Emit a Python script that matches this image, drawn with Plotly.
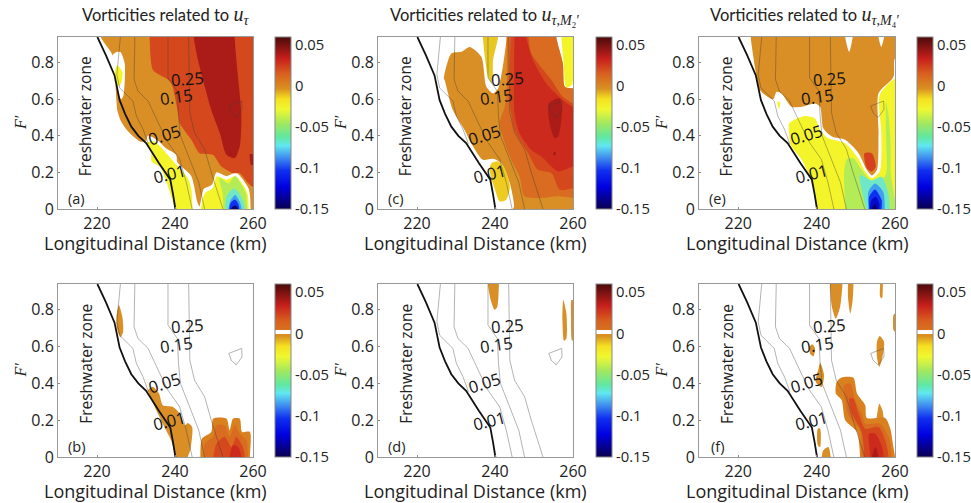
import plotly.graph_objects as go
from plotly.subplots import make_subplots

# ---- isoline readings (km, F') -------------------------------------------
iso_black = [(220.1,.94),(222.3,.84),(224.5,.73),(225.1,.66),(225.8,.595),(227.2,.52),(228.8,.45),(230.6,.40),(232.6,.36),(235.9,.25),(238.8,.16),(239.5,.08),(240.1,0)]
iso_1 = [(226.0,.94),(225.6,.835),(225.1,.735),(225.8,.662),(229.2,.59),(230.1,.508),(231.8,.436),(233.2,.354)]
iso_2 = [(229.7,.94),(229.5,.708),(230.5,.644),(233.1,.59),(236.1,.454),(238.2,.363),(241.2,.272),(242.9,.145),(244.4,0)]
iso_3 = [(238.2,.94),(238.2,.717),(240.6,.644),(240.9,.508),(241.4,.40),(243.8,.272),(246.1,.145),(247.6,0)]
iso_4 = [(243.5,.94),(243.8,.526),(245,.417),(247.6,.327),(249.3,.20),(252.3,0)]
iso_loop = [(253.8,.563),(257.1,.59),(257.2,.544),(255.7,.50),(254.4,.526),(253.8,.563)]
iso_labels = ["0.25","0.15","0.05","0.01"]
iso_label_x = [243.3,240.3,237.4,238.6]
iso_label_y = [.713,.613,.405,.196]
iso_label_angle = [-4,-8,-17,-14]

# ---- band colours ---------------------------------------------------------
C_WHITE="#ffffff"; C_YEL="#f4f42a"; C_GRN="#b4ec58"; C_TEAL="#70e8c8"; C_LBLUE="#3fa0f0"
C_BLUE="#1030f0"; C_DBLUE="#0808c8"; C_NAVY="#0a0070"
C_ORG="#d98f25"; C_ORG2="#d96c20"; C_ORG3="#d5481e"; C_RED="#cc2a1c"; C_DRED="#ab1c18"

# ---- panel (a) ------------------------------------------------------------
a_orange=[(221,.94),(224,.84),(224.6,.72),(225,.587),(225.2,.54),(226.2,.478),(228,.423),(231,.369),(232.6,.372),(233,.40),(235.4,.379),(237.6,.333),(240.3,.296),(240.6,.255),(244.1,.183),(244.9,.124),(245.7,.04),(246.3,.015),(247.4,.11),(249.5,.134),(250.6,.20),(253.2,.18),(255.7,.198),(258.9,.11),(259.4,0),(260,0),(260,.94)]
a_redorg=[(233.5,.94),(234.4,.758),(237.8,.713),(239.1,.686),(240.8,.523),(241.2,.469),(244.2,.378),(246.3,.305),(249.7,.296),(251.9,.232),(254.9,.196),(256.6,.196),(258.7,.142),(260,.12),(260,.94)]
a_dred=[(244.8,.94),(245.9,.813),(247.2,.704),(249.3,.541),(251.5,.414),(253.2,.296),(255.3,.278),(256.6,.341),(257,.523),(255.9,.777),(255.3,.94)]
a_dred2=[(259.2,.30),(260,.30),(260,.24),(259.5,.24)]
a_wblob=[(225,.858),(224,.84),(224.1,.731),(225.4,.64),(226.2,.60),(226.8,.622),(227.1,.795),(226,.858)]
a_yblob=[(225.1,.786),(226.5,.75),(226.2,.686),(225.1,.667),(224.5,.722)]
a_ylow=[(233.5,.369),(234.8,.369),(237.4,.314),(240,.25),(243.3,.169),(244.2,.105),(244.5,0),(240,0),(239,.07),(237.6,.16),(236,.233),(234,.26),(233.9,.323),(232.6,.36)]
a_yright=[(246.6,0),(247.7,.088),(249.6,.112),(250.7,.178),(253.2,.16),(255.6,.178),(258.5,.09),(258.9,0)]
a_green=[(251.4,.17),(252.2,.085),(252.4,0),(258.5,0),(258.2,.085),(257.1,.13),(255.4,.18),(253.7,.14)]
a_teal=[(252.9,0),(253.2,.067),(255,.112),(256.2,.094),(257.4,.049),(258,0)]
a_lblue=[(253.7,0),(254.1,.04),(255.4,.076),(256.6,.04),(257.1,0)]
a_blue=[(253.9,0),(254.3,.034),(255.4,.052),(256.2,.03),(256.5,0)]
a_navy=[(254.3,0),(255.4,.02),(256.2,0)]

# ---- panel (c) ------------------------------------------------------------
c_orange=[(226.9,.713),(228.8,.85),(231.4,.859),(233.5,.886),(236.5,.832),(237.8,.668),(239.5,.632),(240.8,.659),(242,.777),(243,.94),(255.7,.94),(257.4,.795),(257.9,.668),(260,.659),(260,0),(244.6,0),(244.9,.014),(243.8,.142),(241.6,.25),(239.5,.274),(236.9,.269),(233.9,.36),(232.2,.432),(229.2,.541),(227.1,.704)]
c_band1=[(243,.94),(243,.668),(242.5,.559),(241.2,.469),(243.8,.287),(246.3,.178),(247.6,.069),(251.8,.06),(256.2,.069),(260,.06),(260,.659),(257.9,.668),(257.4,.795),(255.7,.94)]
c_band2=[(244,.94),(248.6,.94),(249.3,.85),(254.5,.704),(257.4,.613),(260,.577),(260,.114),(256.6,.105),(254.5,.196),(251,.214),(248.5,.305),(245,.432),(243.8,.596)]
c_band3=[(245,.94),(248,.94),(249.8,.811),(253.2,.684),(256.6,.61),(260,.559),(260,.232),(256.2,.205),(251.9,.287),(249.3,.323),(246.3,.414),(245,.523),(244.9,.777)]
c_dark=[(253.8,.578),(256.6,.605),(257.2,.541),(256.2,.396),(255.3,.387),(254,.469)]
c_spot=[(255,.31),(255.6,.31),(255.6,.295),(255,.295)]
c_ystrip=[(236.9,.94),(240.8,.94),(239.5,.813),(239.3,.686),(238.2,.722),(237.4,.832)]
c_yright=[(257,.94),(260,.94),(259.7,.677),(258.3,.664),(257.6,.795)]
c_ylow=[(239.1,.25),(240.8,.26),(242.5,.223),(243.8,.124),(242.9,.051),(241.2,.042),(240,.105),(238.6,.214)]

# ---- panel (e) ------------------------------------------------------------
e_yellow=[(233,.468),(237,.508),(239.6,.495),(240.9,.432),(243,.387),(247.3,.36),(250.3,.287),(252.4,.205),(254.1,.169),(256.1,.205),(256.5,.414),(256.1,.623),(260,.713),(260,0),(240,0),(238.5,.16),(236.2,.269),(233.4,.35),(233,.414)]
e_orange=[(223.2,.94),(224.7,.722),(225.5,.65),(228.9,.60),(229.8,.641),(231,.632),(233.6,.559),(236.2,.559),(239.6,.577),(240.9,.559),(241.7,.441),(243.9,.396),(247.3,.378),(250.7,.305),(252.8,.214),(254.1,.183),(255.4,.214),(255.8,.414),(255.8,.632),(259.6,.722),(260,.822),(260,.94),(257.2,.94),(256.5,.886),(255.8,.94),(249.2,.94),(248.3,.859),(247.3,.94)]
e_red=[(252.2,.305),(254.1,.305),(255.1,.232),(254.1,.205),(252.8,.223)]
e_ysmall=[(230,.585),(230.7,.585),(230.4,.545)]
e_green=[(247.3,0),(247,.196),(247.7,.272),(249.4,.278),(251.5,.214),(254.1,.151),(256.7,.16),(257.8,.2),(257.7,.4),(257.7,.586),(258.4,.505),(258.9,.34),(258.9,.2),(259.6,.1),(260,.06),(260,0)]
e_teal=[(251,.185),(254,.157),(256.6,.176),(258.3,.085),(258.7,0),(252.6,0),(251.5,.103)]
e_lblue=[(253.2,0),(253.2,.094),(254.9,.139),(257,.094),(257.4,0)]
e_blue=[(253.4,0),(253.4,.067),(254.9,.107),(256.6,.049),(256.6,0)]
e_dblue=[(253.6,0),(254,.049),(255.1,.067),(256,.031),(256,0)]
e_navy=[(254.1,0),(254.9,.027),(255.5,0)]

# ---- panel (b) ------------------------------------------------------------
b_org1=[(225.6,.826),(226.5,.762),(226.7,.68),(226,.65),(225.1,.699),(225,.762)]
b_org2=[(234.4,.381),(235.9,.345),(236.9,.281),(239.5,.272),(241.2,.236),(242.5,.172),(243.3,.185),(244.4,.163),(243.9,.036),(243.3,0),(240.1,0),(239,.091),(237.5,.154),(235.6,.236),(233.5,.336),(233.1,.363)]
b_band0=[(246.5,0),(246.9,.1),(249.3,.136),(249.8,.209),(253.2,.209),(254,.145),(254.9,.209),(256.6,.209),(257.2,.136),(259.2,.136),(259.2,0)]
b_band1=[(247.4,0),(247.6,.07),(249.8,.11),(250.6,.172),(252.7,.172),(254,.11),(255.3,.172),(256.6,.127),(258.3,.09),(258.7,0)]
b_band2=[(249.8,0),(250.6,.07),(252.7,.11),(254.5,.054),(255.7,.11),(257.4,.054),(257.9,0)]
b_band3=[(254,0),(254.9,.064),(256.2,.054),(257,0)]

# ---- panel (d) ------------------------------------------------------------
d_org1=[(238.2,.94),(241,.94),(240.6,.817),(239.9,.80),(238.9,.853)]
d_org2=[(257.5,.853),(258.3,.78),(258.3,.644),(257.7,.632),(257.3,.744)]
d_org3=[(259.6,.853),(260,.853),(260,.632),(259.7,.635),(259.5,.744)]

# ---- panel (f) ------------------------------------------------------------
f_org1=[(243.4,.94),(246.6,.94),(246,.817),(244.9,.753),(243.9,.817)]
f_org2=[(248,.94),(249.4,.94),(249.2,.853),(248.6,.78),(248,.871)]
f_org3=[(256.2,.94),(256.9,.94),(256.7,.862),(256.2,.871)]
f_org4=[(259.6,.771),(260,.78),(260,.68),(259.6,.69)]
f_org5=[(238.9,.612),(239.6,.59),(239.2,.548),(238.3,.563),(238.3,.6)]
f_org6=[(256.1,.657),(257.2,.626),(256.8,.544),(256,.49),(255.4,.544),(255.4,.626)]
f_org7=[(240.9,.512),(241.9,.445),(241.3,.381),(239.8,.408),(240.5,.481)]
f_org8=[(240.3,.154),(240.9,.154),(240.9,.054),(240.3,.064)]
f_org9=[(241.3,0),(241.7,.036),(243,.054),(243.6,0)]
f_org10=[(256,.29),(256.8,.254),(257,.2),(255.4,.2),(255.6,.254)]
f_main=[(245.1,.408),(246.4,.432),(249.4,.43),(250.3,.345),(252.4,.281),(252.8,.212),(257.5,.212),(258.8,.154),(259.6,.054),(260,0),(251.1,0),(250.3,.136),(247.3,.2),(246.4,.309),(244.9,.345)]
f_band2=[(246.9,.39),(248.6,.4),(249.8,.309),(251.5,.236),(252.4,.181),(256.2,.181),(258.4,.109),(259.2,0),(251.5,0),(251.1,.145),(248.1,.227),(247.3,.309)]
f_band3=[(248.3,.318),(249.4,.318),(250.7,.236),(252.4,.154),(255.8,.163),(257.5,.09),(258.4,0),(252.2,0),(251.5,.136),(249,.236)]
f_band4=[(253.4,.127),(255,.127),(256.7,.054),(257.1,0),(253.7,0)]
f_band5=[(254.1,0),(255,.054),(255.8,0)]

panel_a=[(a_orange,C_ORG),(a_redorg,C_ORG3),(a_dred,C_DRED),(a_dred2,C_DRED),(a_wblob,C_WHITE),(a_yblob,C_YEL),(a_ylow,C_YEL),(a_yright,C_YEL),(a_green,C_GRN),(a_teal,C_TEAL),(a_lblue,C_LBLUE),(a_blue,C_BLUE),(a_navy,C_NAVY)]
panel_c=[(c_orange,C_ORG),(c_band1,C_ORG2),(c_band2,C_ORG3),(c_band3,C_RED),(c_dark,C_DRED),(c_spot,C_DRED),(c_ystrip,"#e8c820"),(c_yright,C_YEL),(c_ylow,"#eecb20")]
panel_e=[(e_yellow,C_YEL),(e_orange,C_ORG),(e_red,"#d6401e"),(e_ysmall,C_YEL),(e_green,C_GRN),(e_teal,C_TEAL),(e_lblue,C_LBLUE),(e_blue,C_BLUE),(e_dblue,C_DBLUE),(e_navy,C_NAVY)]
panel_b=[(b_org1,C_ORG),(b_org2,C_ORG),(b_band0,"#d9801f"),(b_band1,C_ORG2),(b_band2,C_ORG3),(b_band3,C_RED)]
panel_d=[(d_org1,C_ORG),(d_org2,C_ORG),(d_org3,C_ORG)]
panel_f=[(f_org1,C_ORG),(f_org2,C_ORG),(f_org3,C_ORG),(f_org4,C_ORG),(f_org5,C_ORG),(f_org6,C_ORG),(f_org7,C_ORG),(f_org8,C_ORG),(f_org9,C_ORG),(f_org10,C_ORG),(f_main,"#d9801f"),(f_band2,C_ORG2),(f_band3,C_ORG3),(f_band4,C_RED),(f_band5,C_DRED)]

# ---- colour bar -----------------------------------------------------------
cbar_vals=[-.15,-.123,-.103,-.087,-.0725,-.062,-.046,-.028,-.0155,-.003,.015,.0335,.06]
cbar_cols=["#0a0050","#0000e0","#1030f0","#4090f0","#60e8f0","#60e8a0","#a0e860","#f0f830","#f5e020","#d99020","#d8601f","#c8201c","#4a0a0a"]
cbar_ticks=[.05,0,-.05,-.1,-.15]
cbar_text=["0.05","0","-0.05","-0.1","-0.15"]
CMIN,CMAX=-.15,.06
def norm(v): return (v-CMIN)/(CMAX-CMIN)
scale_top=[[norm(v),c] for v,c in zip(cbar_vals,cbar_cols)]
scale_bot=[[norm(v),c] for v,c in zip(cbar_vals[:10],cbar_cols[:10])]+[[norm(-.0005),"#d99020"],[norm(-.0004),"#ffffff"],[norm(.0045),"#ffffff"],[norm(.0046),"#d8701f"]]+[[norm(v),c] for v,c in zip(cbar_vals[10:],cbar_cols[10:])]

W,H=1010,503   # canvas slightly wider than the window so the last colour-bar labels need no margin
col_px=[(58,253),(378,573),(699,895)]
cbar_px=[275,596,917]
row_px=[(37,209),(284,457)]
panels=[[panel_a,panel_c,panel_e],[panel_b,panel_d,panel_f]]
tags=[["(a)","(c)","(e)"],["(b)","(d)","(f)"]]
U='<span style="font-family:Liberation Serif;font-size:20px">'
titles=['Vorticities related to '+U+'<i>u</i><sub><i>τ</i></sub></span>',
        'Vorticities related to '+U+'<i>u</i><sub><i>τ,M</i>₂′</sub></span>',
        'Vorticities related to '+U+'<i>u</i><sub><i>τ,M</i>₄′</sub></span>']
title_cx=[165,485,805]
TICKF=dict(family="Open Sans",size=16,color="#222")

fig=make_subplots(rows=2,cols=3)
def xy(p): return [q[0] for q in p],[q[1] for q in p]
def outset(poly):
    """Let edges that lie on the frame run past it, so smoothing cannot pull them inside (the axes clip them)."""
    out=[]
    n=len(poly)
    for i in range(n):
        p,q=poly[i],poly[(i+1)%n]
        out.append(p)
        if p[1]==.94 and q[1]==.94: out+= [(p[0],1.02),(q[0],1.02)]
        elif p[1]==0 and q[1]==0: out+= [(p[0],-.08),(q[0],-.08)]
        elif p[0]==260 and q[0]==260: out+= [(263,p[1]),(263,q[1])]
    return out
for r in range(2):
    for c in range(3):
        for poly,col in panels[r][c]:
            x,y=xy(outset(poly))
            fig.add_trace(go.Scatter(x=x+x[:1],y=y+y[:1],mode="lines",line=dict(width=0,shape="spline",smoothing=0.7),fill="toself",fillcolor=col,hoverinfo="skip",showlegend=False),row=r+1,col=c+1)
        for iso in (iso_1,iso_2,iso_3,iso_4,iso_loop):
            x,y=xy(iso)
            fig.add_trace(go.Scatter(x=x,y=y,mode="lines",line=dict(width=0.6,color="rgba(60,60,60,0.65)"),hoverinfo="skip",showlegend=False),row=r+1,col=c+1)
        x,y=xy(iso_black)
        fig.add_trace(go.Scatter(x=x,y=y,mode="lines",line=dict(width=1.8,color="#111"),hoverinfo="skip",showlegend=False),row=r+1,col=c+1)
        y0,y1=row_px[r]
        fig.add_trace(go.Scatter(x=[None],y=[None],mode="markers",showlegend=False,hoverinfo="skip",
            marker=dict(color=[0],cmin=CMIN,cmax=CMAX,colorscale=scale_top if r==0 else scale_bot,showscale=True,
                colorbar=dict(x=cbar_px[c]/W,xanchor="left",xpad=0,ypad=0,y=1-(y0+y1)/2/H,yanchor="middle",len=(y1-y0)/H,lenmode="fraction",
                    thickness=16,thicknessmode="pixels",outlinecolor="#888",outlinewidth=1,
                    tickmode="array",tickvals=cbar_ticks,ticktext=cbar_text,ticks="",tickfont=dict(family="Open Sans",size=14.8,color="#222")))),row=r+1,col=c+1)
        xa,ya=col_px[c]
        axis_n=r*3+c+1
        fig.update_xaxes(domain=[xa/W,ya/W],range=[210,260],tickvals=[220,240,260],ticks="inside",ticklen=2,tickcolor="#888",automargin=False,
            showgrid=False,zeroline=False,showline=True,mirror=True,linecolor="#999",linewidth=1,tickfont=TICKF,row=r+1,col=c+1)
        fig.update_yaxes(domain=[1-y1/H,1-y0/H],range=[0,.94],tickvals=[0,.2,.4,.6,.8],ticktext=["0","0.2","0.4","0.6","0.8"],ticks="inside",ticklen=2,tickcolor="#888",automargin=False,
            showgrid=False,zeroline=False,showline=True,mirror=True,linecolor="#999",linewidth=1,tickfont=TICKF,row=r+1,col=c+1)
        sfx="" if axis_n==1 else str(axis_n)
        for t,lx,ly,ang in zip(iso_labels,iso_label_x,iso_label_y,iso_label_angle):
            fig.add_annotation(xref="x"+sfx,yref="y"+sfx,x=lx,y=ly,text=t,showarrow=False,textangle=ang,font=dict(family="Open Sans",size=16.5,color="#111"))
        fig.add_annotation(xref="x"+sfx,yref="y"+sfx,x=217,y=.508,text="Freshwater zone",showarrow=False,textangle=-90,font=dict(family="Open Sans",size=15.5,color="#222"))
        fig.add_annotation(xref="x"+sfx,yref="y"+sfx,x=214.7,y=.055,text=tags[r][c],showarrow=False,font=dict(family="Open Sans",size=14.5,color="#222"))
        fig.add_annotation(xref="paper",yref="paper",xanchor="center",yanchor="middle",x=(xa+ya)/2/W,y=1-(y1+34)/H,text="Longitudinal Distance (km)",showarrow=False,font=dict(family="Open Sans",size=18,color="#222"))
        fig.add_annotation(xref="paper",yref="paper",xanchor="center",yanchor="middle",x=(xa-38)/W,y=1-(y0+y1)/2/H,text="<i>F′</i>",textangle=-90,showarrow=False,font=dict(family="Liberation Serif",size=16,color="#222"))
for cx,t in zip(title_cx,titles):
    fig.add_annotation(xref="paper",yref="paper",xanchor="center",yanchor="middle",x=cx/W,y=1-15/H,text=t,showarrow=False,font=dict(family="Lato",size=16.5,color="#222"))
fig.update_layout(width=W,height=H,margin=dict(l=0,r=0,t=0,b=0),autosize=False,paper_bgcolor="white",plot_bgcolor="white",showlegend=False)
fig.write_html("out.html",config=dict(displayModeBar=False),post_script="document.body.style.margin='0';document.body.style.overflow='hidden';document.documentElement.style.overflow='hidden';")
